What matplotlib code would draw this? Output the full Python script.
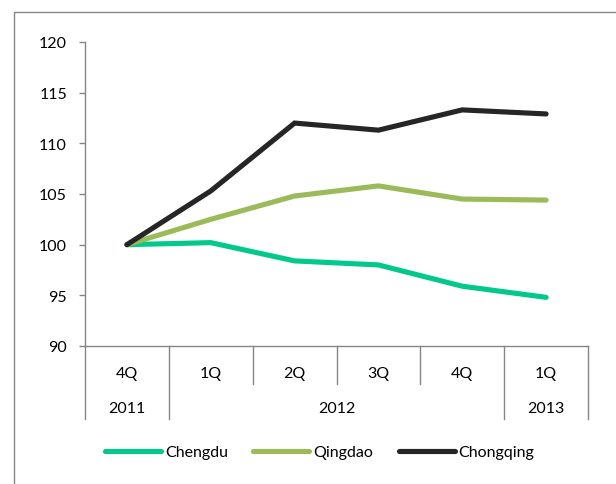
import matplotlib
matplotlib.use("Agg")
import matplotlib.pyplot as plt
import matplotlib.transforms as mtrans
from matplotlib.patches import Rectangle

plt.rcParams['font.family'] = ['Lato', 'DejaVu Sans']

quarters = ['4Q', '1Q', '2Q', '3Q', '4Q', '1Q']
years = [('2011', 0, 0), ('2012', 1, 4), ('2013', 5, 5)]

chengdu = [100.0, 100.2, 98.4, 98.0, 95.9, 94.8]
qingdao = [100.0, 102.5, 104.8, 105.8, 104.5, 104.4]
chongqing = [100.0, 105.3, 112.0, 111.3, 113.3, 112.9]

series = [
    ('Chengdu', chengdu, '#00C98B'),
    ('Qingdao', qingdao, '#9BBB59'),
    ('Chongqing', chongqing, '#262626'),
]

GRAY = '#868686'
FS = 11.5
W, H = 616, 485

fig = plt.figure(figsize=(W / 100, H / 100), dpi=100)
ax = fig.add_axes([85 / W, 1 - 347 / H, (588 - 85) / W, (347 - 43) / H])

x = list(range(len(quarters)))
for name, vals, col in series:
    ax.plot(x, vals, color=col, lw=3.7, solid_capstyle='round',
            solid_joinstyle='miter', label=name)

ax.set_xlim(-0.5, len(quarters) - 0.5)
ax.set_ylim(90, 120)
ax.set_yticks(range(90, 121, 5))
ax.tick_params(axis='y', direction='out', length=4, color=GRAY, width=1,
               labelsize=FS, pad=9)
ax.set_xticks([])
for s in ['top', 'right']:
    ax.spines[s].set_visible(False)
for s in ['left', 'bottom']:
    ax.spines[s].set_color(GRAY)
    ax.spines[s].set_linewidth(1)

# two-level category axis: quarter row, year row, separators
tr = mtrans.blended_transform_factory(ax.transData, fig.transFigure)
for i, q in enumerate(quarters):
    ax.text(i, 1 - 374 / H, q, transform=tr, ha='center', va='center',
            fontsize=FS)
for label, a, b in years:
    ax.text((a + b) / 2, 1 - 409 / H, label, transform=tr, ha='center',
            va='center', fontsize=FS)

year_edges = {-0.5} | {b + 0.5 for _, a, b in years}
for k in range(len(quarters) + 1):
    xe = k - 0.5
    y_end = 420 if xe in year_edges else 385
    ax.plot([xe, xe], [1 - 347 / H, 1 - y_end / H], transform=tr,
            color=GRAY, lw=1, clip_on=False)

fig.legend(loc='center', bbox_to_anchor=(0.519, 1 - 453 / H), ncol=3,
           frameon=False, fontsize=FS, handlelength=3.5,
           handletextpad=0.25, columnspacing=1.6)

# outer chart border
fig.patches.append(Rectangle((14 / W, -0.1), 1.2, 1 - 13 / H + 0.1,
                             transform=fig.transFigure, fill=False,
                             edgecolor=GRAY, lw=1))

fig.savefig('out.png', dpi=100)
